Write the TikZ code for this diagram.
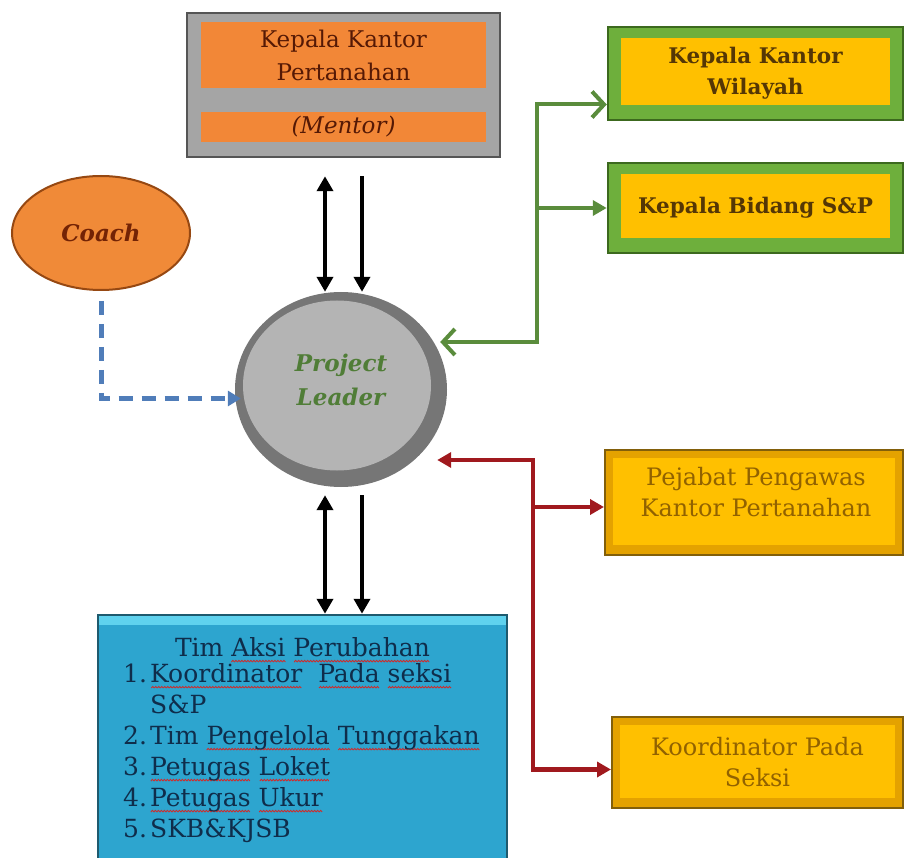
\documentclass[tikz,border=0pt]{standalone}
\usepackage{fontspec}
\setmainfont{DejaVu Serif}
\usepackage{xcolor}
\usetikzlibrary{arrows.meta,shapes.geometric}

\definecolor{mentorgray}{RGB}{165,165,165}
\definecolor{mentoredge}{RGB}{85,85,85}
\definecolor{mentororange}{RGB}{242,135,55}
\definecolor{mentortext}{RGB}{85,25,5}
\definecolor{coachorange}{RGB}{240,138,56}
\definecolor{coachedge}{RGB}{150,72,18}
\definecolor{coachtext}{RGB}{115,35,5}
\definecolor{leaderring}{RGB}{118,118,118}
\definecolor{leaderfill}{RGB}{180,180,180}
\definecolor{leadertext}{RGB}{80,125,55}
\definecolor{boxgreen}{RGB}{110,175,60}
\definecolor{boxgreendark}{RGB}{60,105,30}
\definecolor{boxyellow}{RGB}{255,192,0}
\definecolor{boxgold}{RGB}{228,162,0}
\definecolor{boxgolddark}{RGB}{130,95,10}
\definecolor{greentext}{RGB}{85,55,5}
\definecolor{goldtext}{RGB}{145,98,0}
\definecolor{timblue}{RGB}{45,165,207}
\definecolor{timlight}{RGB}{95,210,238}
\definecolor{timedge}{RGB}{30,90,110}
\definecolor{timtext}{RGB}{15,45,75}
\definecolor{linegreen}{RGB}{90,140,60}
\definecolor{linered}{RGB}{160,25,30}
\definecolor{lineblue}{RGB}{80,125,185}
\definecolor{spellred}{RGB}{205,45,45}

\newcommand{\mentorfont}{\fontsize{23}{33}\selectfont}
\newcommand{\greenfont}{\fontsize{21.5}{31}\selectfont\bfseries}
\newcommand{\goldfont}{\fontsize{24}{31}\selectfont}
\newcommand{\roundfont}{\fontsize{23}{34}\selectfont\bfseries\itshape}
\newcommand{\timfont}{\fontsize{25}{31}\selectfont}

\newsavebox{\spellwave}
\newcommand{\spell}[1]{\leavevmode\setbox0\hbox{#1}%
  \rlap{\lower6pt\hbox to \wd0{\cleaders\copy\spellwave\hfill}}\box0\relax}

\tikzset{
  every node/.style={inner sep=0pt},
  mentorbox/.style={rectangle, fill=mentorgray, draw=mentoredge, line width=2.5pt,
    minimum width=313pt, minimum height=144pt,
    path picture={
      \fill[mentororange] ([shift={(14pt,-9pt)}]path picture bounding box.north west) rectangle ([shift={(-14pt,-75pt)}]path picture bounding box.north east);
      \fill[mentororange] ([shift={(14pt,-99pt)}]path picture bounding box.north west) rectangle ([shift={(-14pt,-129pt)}]path picture bounding box.north east);
    }},
  mentortxt/.style={align=center, font=\mentorfont, text=mentortext},
  coachnode/.style={ellipse, minimum width=178pt, minimum height=114pt, fill=coachorange,
    draw=coachedge, line width=2pt, font=\roundfont, text=coachtext},
  leadernode/.style={ellipse, minimum width=212pt, minimum height=195pt, fill=leaderring,
    path picture={
      \fill[leaderfill] ([shift={(-4pt,4pt)}]path picture bounding box.center) ellipse [x radius=94pt, y radius=85pt];
    }},
  leadertxt/.style={align=center, font=\roundfont, text=leadertext},
  greenbox/.style={rectangle, fill=boxgreen, draw=boxgreendark, line width=2.5pt,
    minimum width=295pt, align=center, font=\greenfont, text=greentext,
    path picture={
      \fill[boxyellow] ([shift={(13pt,-11pt)}]path picture bounding box.north west) rectangle ([shift={(-13pt,15pt)}]path picture bounding box.south east);
    }},
  goldbox/.style={rectangle, fill=boxgold, draw=boxgolddark, line width=2pt,
    align=center, font=\goldfont, text=goldtext,
    path picture={
      \fill[boxyellow] ([shift={(8pt,-8pt)}]path picture bounding box.north west) rectangle ([shift={(-8pt,10pt)}]path picture bounding box.south east);
    }},
  goldtxt/.style={align=center, font=\goldfont, text=goldtext},
  timbox/.style={rectangle, fill=timblue, draw=timedge, line width=2.5pt,
    minimum width=409pt, minimum height=260pt,
    path picture={
      \fill[timlight] (path picture bounding box.north west) rectangle ([yshift=-10pt]path picture bounding box.north east);
    }},
  timtxt/.style={font=\timfont, text=timtext},
  blackarrow/.style={line width=4pt, black, >={Triangle[length=15pt,width=16pt]}},
  greenline/.style={line width=4pt, draw=linegreen, >={Triangle[length=14pt,width=15pt]}},
  openbarb/.style={>={Straight Barb[length=12pt,width=26pt]}},
  redline/.style={line width=4.5pt, draw=linered, >={Triangle[length=14pt,width=15pt]}},
  coachline/.style={line width=5pt, draw=lineblue, dash pattern=on 14pt off 9pt,
    >={Triangle[length=13pt,width=15pt]}}
}

\begin{document}
\sbox{\spellwave}{\begin{pgfpicture}
  \pgfsetlinewidth{0.9pt}
  \pgfsetstrokecolor{spellred}
  \pgfpathmoveto{\pgfpoint{0pt}{0pt}}
  \pgfpathlineto{\pgfpoint{1.5pt}{1.6pt}}
  \pgfpathlineto{\pgfpoint{3pt}{0pt}}
  \pgfusepath{stroke}
  \pgfresetboundingbox
  \pgfpathrectangle{\pgfpointorigin}{\pgfpoint{3pt}{1.6pt}}
  \pgfusepath{use as bounding box}
\end{pgfpicture}}
\begin{tikzpicture}[x=1pt, y=-1pt]
  \pgfmathsetmacro{\lx}{325}
  \pgfmathsetmacro{\rx}{362}

  \useasboundingbox (0,0) rectangle (905,858);

  \node[mentorbox] (mentor) at (343.5,85) {};
  \node[mentortxt] (mentorname) at (343.5,55) {Kepala Kantor\\Pertanahan};
  \node[mentortxt, font=\mentorfont\itshape] (mentorrole) at (343.5,127) {(Mentor)};

  \node[coachnode] (coach) at (101,233) {Coach};
  \node[leadernode] (leader) at (341,389.5) {};
  \node[leadertxt] (leadername) at (341,380) {Project\\Leader};

  \node[greenbox, minimum height=93pt] (wilayah) at (755.5,73.5) {Kepala Kantor\\Wilayah};
  \node[greenbox, minimum height=90pt] (bidang) at (755.5,208) {Kepala Bidang S\&P};
  \node[goldbox, minimum width=298pt, minimum height=105pt] (pejabat) at (754,502.5) {};
  \node[goldtxt] (pejabatname) at (756,492) {Pejabat Pengawas\\Kantor Pertanahan};
  \node[goldbox, minimum width=291pt, minimum height=91pt] (koord) at (757.5,762.5) {Koordinator Pada\\Seksi};

  \node[timbox] (tim) at (302.5,745) {};
  \node[timtxt, anchor=base] (timtitle) at (302.5,656) {Tim \spell{Aksi} \spell{Perubahan}};
  \node[timtxt, anchor=base west] (timlist) at (123,682) {\begin{tabular}[t]{@{}p{27pt}@{}l@{}}
    1. & \spell{Koordinator}\hspace{8pt} \spell{Pada} \spell{seksi}\\
       & S\&P\\
    2. & Tim \spell{Pengelola} \spell{Tunggakan}\\
    3. & \spell{Petugas} \spell{Loket}\\
    4. & \spell{Petugas} \spell{Ukur}\\
    5. & SKB\&KJSB
  \end{tabular}};

  \draw[blackarrow, <->, shorten <=18pt] (mentor.south -| \lx,0) -- (leader.north -| \lx,0);
  \draw[blackarrow, ->, shorten <=18pt] (mentor.south -| \rx,0) -- (leader.north -| \rx,0);
  \draw[blackarrow, <->, shorten <=8pt] (leader.south -| \lx,0) -- (tim.north -| \lx,0);
  \draw[blackarrow, ->, shorten <=8pt] (leader.south -| \rx,0) -- (tim.north -| \rx,0);

  \coordinate (gsplit) at (537,342);
  \draw[greenline, openbarb, <->, shorten <=-7pt] (leader.east |- gsplit) -- (gsplit) |- ([yshift=-31pt]wilayah.west);
  \draw[greenline, ->] (gsplit |- bidang.west) -- (bidang.west);

  \coordinate (rsplit) at (533,460);
  \draw[redline, <->, shorten <=-10pt] (leader.east |- rsplit) -- (rsplit) |- ([yshift=-7pt]koord.west);
  \draw[redline, ->] ([yshift=-4.5pt]rsplit |- pejabat.west) -- ([yshift=-4.5pt]pejabat.west);

  \draw[coachline, ->, shorten <=10pt, shorten >=-6pt] (coach.south) |- ([yshift=-9pt]leader.west);
\end{tikzpicture}
\end{document}
